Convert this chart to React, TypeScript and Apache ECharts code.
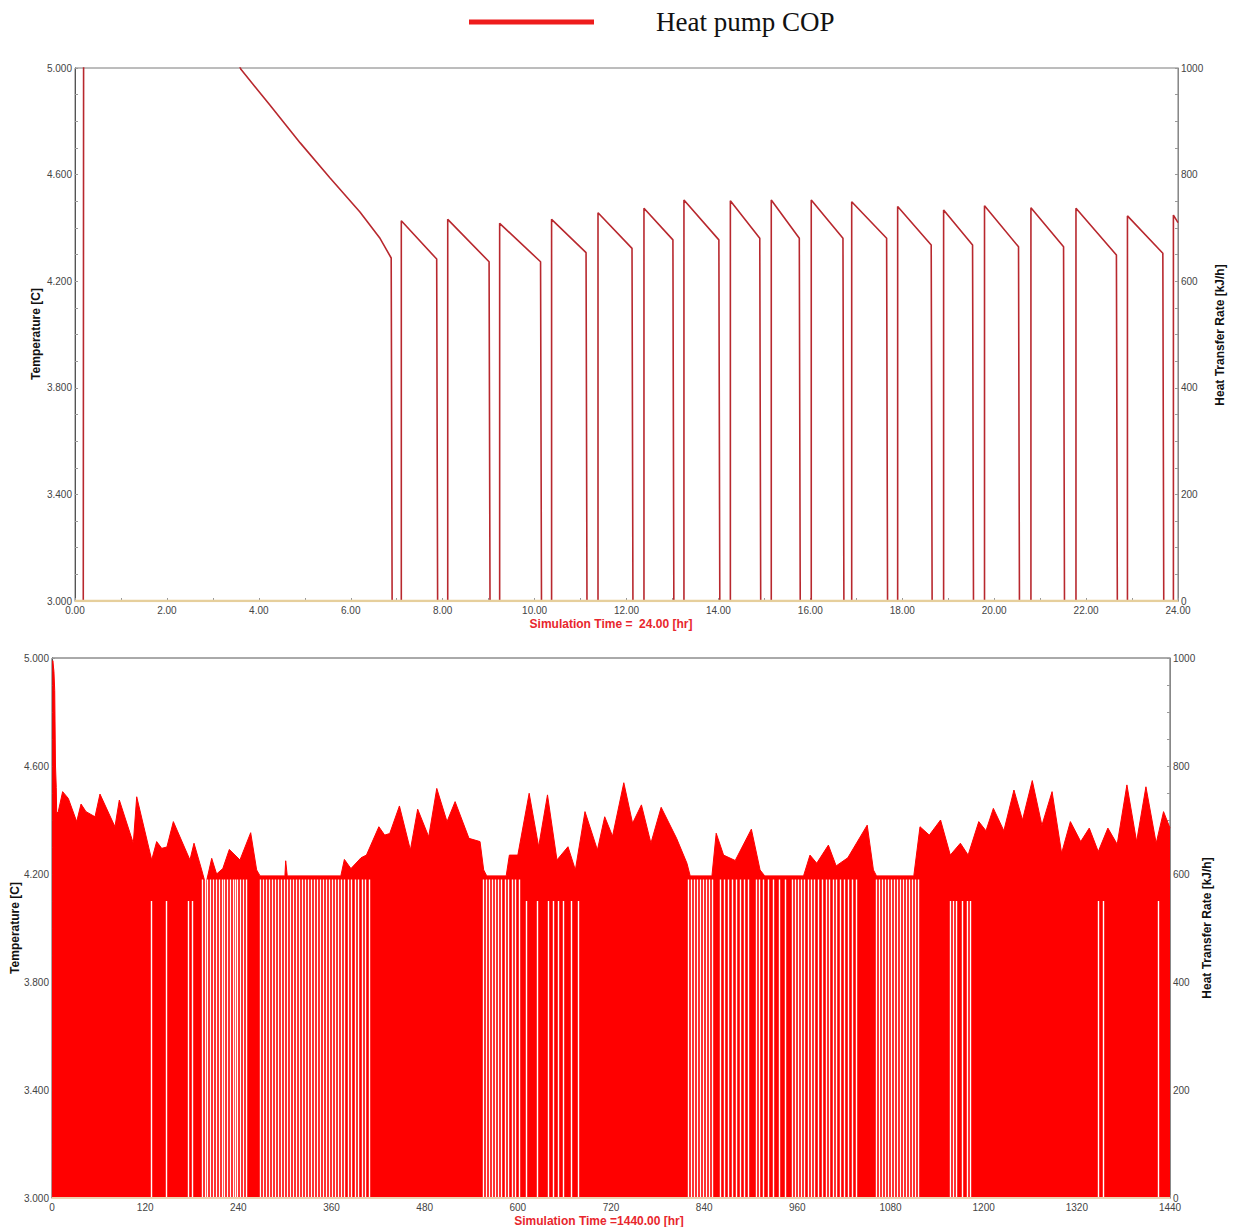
import React, { useEffect, useRef } from 'react';
import * as echarts from 'echarts';

// ---------- texts ----------
const legendLabel = 'Heat pump COP';
const topXTitle = 'Simulation Time =  24.00 [hr]';
const bottomXTitle = 'Simulation Time =1440.00 [hr]';
const leftTitle = 'Temperature [C]';
const rightTitle = 'Heat Transfer Rate [kJ/h]';

// ---------- top chart (24 h) ----------
// warm-up: COP above 5 (clipped), then decaying until first switch-off
const warmupT = [0.18, 0.19, 1.5, 3.0, 3.61, 4.24, 4.9, 5.55, 6.2, 6.64, 6.88, 6.9];
const warmupV = [3.0, 5.9, 5.6, 5.25, 4.995, 4.861, 4.719, 4.587, 4.46, 4.36, 4.287, 3.0];
// on/off cycles
const cycleOnT = [7.1, 8.11, 9.24, 10.37, 11.38, 12.38, 13.25, 14.26, 15.15, 16.02, 16.9, 17.9, 18.9, 19.79, 20.8, 21.78, 22.9, 23.9];
const cyclePeakV = [4.427, 4.432, 4.417, 4.432, 4.457, 4.474, 4.505, 4.502, 4.505, 4.505, 4.498, 4.48, 4.467, 4.483, 4.476, 4.474, 4.445, 4.448];
const cycleOffT = [7.87, 9.01, 10.13, 11.12, 12.12, 13.01, 14.01, 14.9, 15.76, 16.71, 17.66, 18.63, 19.53, 20.53, 21.51, 22.66, 23.67, 24.0];
const cycleEndV = [4.283, 4.273, 4.273, 4.307, 4.323, 4.355, 4.355, 4.361, 4.361, 4.361, 4.361, 4.336, 4.336, 4.329, 4.329, 4.298, 4.305, 4.42];
// heat transfer rate (flat zero)
const heatTopT = [0, 24];
const heatTopV = [0, 0];

// ---------- bottom chart (1440 h) ----------
const envT = [0.5, 1.0, 2.5, 3.5, 4.5, 5.5, 6.0, 8.0, 13.7, 21.0, 31.8, 37.4, 43.8, 55.4, 61.8, 81.1, 86.7, 104.7, 109.1, 128.4, 134.8, 141.3, 148, 156.3, 177.7, 182.9, 192.8, 198, 205.7, 212, 220, 228.4, 242.1, 255.9, 263.6, 268, 300, 301, 303, 372, 376.6, 385, 398, 405, 421, 428.5, 435, 447.5, 461.6, 471, 485.2, 495.6, 508.8, 519.2, 537.1, 551.3, 556, 560, 585, 589.1, 600, 614.6, 626.8, 638.2, 650.4, 664.6, 674.1, 686.5, 702.5, 711.9, 722, 736.5, 747.8, 759.2, 771.4, 784.6, 804.5, 817.8, 822, 850, 855.5, 865, 880, 900.8, 912, 918, 968, 976.3, 985, 1000, 1010, 1025, 1050, 1058, 1062, 1110, 1118, 1130, 1144.5, 1157, 1170, 1180, 1193.7, 1203, 1212.5, 1226, 1239, 1250, 1262.6, 1275, 1288.1, 1300.4, 1311.7, 1325, 1336, 1347.6, 1360, 1372, 1384.5, 1397, 1409, 1422.2, 1431.7, 1440];
const envV = [3.0, 4.99, 4.95, 4.88, 4.6, 4.52, 4.425, 4.43, 4.505, 4.48, 4.394, 4.459, 4.431, 4.412, 4.496, 4.375, 4.474, 4.314, 4.486, 4.252, 4.32, 4.295, 4.3, 4.394, 4.252, 4.314, 4.215, 4.16, 4.258, 4.2, 4.22, 4.291, 4.252, 4.353, 4.215, 4.193, 4.193, 4.249, 4.193, 4.193, 4.254, 4.22, 4.26, 4.27, 4.375, 4.344, 4.35, 4.452, 4.289, 4.44, 4.338, 4.517, 4.394, 4.468, 4.332, 4.32, 4.215, 4.193, 4.193, 4.27, 4.27, 4.499, 4.301, 4.493, 4.252, 4.301, 4.215, 4.431, 4.289, 4.412, 4.34, 4.538, 4.388, 4.456, 4.314, 4.447, 4.332, 4.24, 4.193, 4.193, 4.351, 4.27, 4.25, 4.366, 4.215, 4.193, 4.193, 4.27, 4.24, 4.307, 4.23, 4.26, 4.381, 4.215, 4.193, 4.193, 4.375, 4.344, 4.4, 4.27, 4.314, 4.27, 4.394, 4.36, 4.443, 4.36, 4.511, 4.4, 4.546, 4.38, 4.505, 4.277, 4.394, 4.32, 4.37, 4.283, 4.37, 4.31, 4.53, 4.32, 4.523, 4.314, 4.431, 4.37];
// compressor-off instants (white gaps) in the dense cycling bands
const gapCombT = [
  193.2, 197.1, 200.3, 204.1, 207.4, 211.9, 215.1, 219.0, 221.5, 225.4, 229.3, 233.1, 235.7, 238.9, 242.8, 246.0, 250.5,
  268.2, 271.6, 275.9, 279.3, 283.6, 287.0, 291.3, 294.8, 298.9, 302.5, 306.8, 310.2, 314.6, 318.0, 322.3, 325.6, 329.9, 333.4, 337.7, 341.1, 345.4, 348.8, 353.2, 356.6, 360.9, 364.3, 368.6, 372.0, 376.3,
  381.2, 385.1, 390.2, 394.1, 399.3, 403.1, 408.3,
  555.5, 559.5, 563.0, 567.2, 571.0, 575.1, 579.0, 583.5, 588.0, 592.2, 597.0, 601.5,
  819.2, 823.0, 826.9, 830.8, 834.6, 838.5, 842.3, 846.2, 850.1, 860.4, 865.5, 870.7, 875.8, 881.0, 886.1, 891.3, 896.4, 906.7, 911.5, 916.0,
  922.0, 929.5, 937.0, 944.5,
  953.1, 957.0, 960.8, 964.7, 968.6, 973.7, 977.6, 981.5, 986.6, 991.8, 996.9, 1000.8, 1006.0, 1009.8, 1015.0, 1020.1, 1025.3, 1030.4, 1035.6,
  1061.3, 1065.2, 1069.0, 1072.9, 1076.8, 1080.6, 1084.5, 1088.4, 1092.2, 1096.1, 1100.0, 1103.8, 1107.7, 1111.6, 1115.4
];
const gapSparseT = [127.5, 147.7, 175.6, 181.0, 611, 625, 639, 645.3, 651.7, 658.2, 668.5, 677.5, 1156.6, 1160.5, 1164.4, 1172.1, 1178.5, 1182.4, 1347, 1354, 1424.5];
const heatBottomT = [0, 1440];
const heatBottomV = [0, 0];

// ---------- axis tick values ----------
const tempMin = 3, tempMax = 5, tempLabelStep = 0.4, tempTickStep = 0.1;
const rateMin = 0, rateMax = 1000, rateLabelStep = 200, rateTickStep = 50;

const FONT = 'Liberation Sans';

function buildTop(): number[][] {
  const pts: number[][] = warmupT.map((t, i) => [t, warmupV[i]]);
  const n = cycleOnT.length;
  for (let i = 0; i < n; i++) {
    pts.push([cycleOnT[i], 3.0]);
    pts.push([cycleOnT[i], cyclePeakV[i]]);
    pts.push([cycleOffT[i], cycleEndV[i]]);
    if (i < n - 1) pts.push([cycleOffT[i] + 0.02, 3.0]);
  }
  return pts;
}

const tempFmt = (v: number) => {
  const k = (v - tempMin) / tempLabelStep;
  return Math.abs(k - Math.round(k)) < 1e-6 ? v.toFixed(3) : '';
};
const rateFmt = (v: number) => {
  const k = (v - rateMin) / rateLabelStep;
  return Math.abs(k - Math.round(k)) < 1e-6 ? String(Math.round(v)) : '';
};

function yTemp(gridIndex: number): any {
  return {
    gridIndex, type: 'value', position: 'left', min: tempMin, max: tempMax, interval: tempTickStep,
    axisLine: { show: true, lineStyle: { color: '#555', width: 1 } },
    axisTick: { show: true, inside: true, length: 3, lineStyle: { color: '#999' } },
    axisLabel: { formatter: tempFmt, fontSize: 10, color: '#444', fontFamily: FONT, margin: 3 },
    splitLine: { show: false },
  };
}
function yRate(gridIndex: number): any {
  return {
    gridIndex, type: 'value', position: 'right', min: rateMin, max: rateMax, interval: rateTickStep,
    axisLine: { show: true, lineStyle: { color: '#888', width: 1 } },
    axisTick: { show: true, inside: true, length: 3, lineStyle: { color: '#999' } },
    axisLabel: { formatter: rateFmt, fontSize: 10, color: '#444', fontFamily: FONT, margin: 3 },
    splitLine: { show: false },
  };
}

function vText(x: number, y: number, text: string): any {
  return {
    type: 'text', x, y, rotation: Math.PI / 2,
    style: { text, fontSize: 12, fontWeight: 'bold', fontFamily: FONT, fill: '#111', align: 'center', verticalAlign: 'middle' },
  };
}

export default function App() {
  const ref = useRef<HTMLDivElement>(null);
  useEffect(() => {
    if (!ref.current) return;
    const chart = echarts.init(ref.current, undefined, { renderer: 'svg' });
    const gapLines = [
      ...gapCombT.map((t) => [{ coord: [t, 3.004] }, { coord: [t, 4.18] }]),
      ...gapSparseT.map((t) => [{ coord: [t, 3.004] }, { coord: [t, 4.1] }]),
    ];
    chart.setOption({
      animation: false,
      backgroundColor: '#fff',
      grid: [
        { left: 75, top: 68, width: 1103, height: 533, show: true, borderColor: '#7a7a7a', borderWidth: 1 },
        { left: 52, top: 658, width: 1118, height: 540, show: true, borderColor: '#555', borderWidth: 1 },
      ],
      xAxis: [
        {
          gridIndex: 0, type: 'value', min: 0, max: 24, interval: 1,
          axisLine: { show: true, lineStyle: { color: '#999' } },
          axisTick: { show: true, inside: true, length: 3, lineStyle: { color: '#999' } },
          axisLabel: { formatter: (v: number) => (Math.abs(v % 2) < 1e-9 ? v.toFixed(2) : ''), fontSize: 10, color: '#444', fontFamily: FONT, margin: 4 },
          splitLine: { show: false },
        },
        {
          gridIndex: 1, type: 'value', min: 0, max: 1440, interval: 120,
          axisLine: { show: true, lineStyle: { color: '#999' } },
          axisTick: { show: true, inside: true, length: 3, lineStyle: { color: '#999' } },
          axisLabel: { formatter: (v: number) => String(Math.round(v)), fontSize: 10, color: '#444', fontFamily: FONT, margin: 4 },
          splitLine: { show: false },
        },
      ],
      yAxis: [yTemp(0), yRate(0), yTemp(1), yRate(1)],
      series: [
        {
          type: 'line', xAxisIndex: 0, yAxisIndex: 0, data: buildTop(), clip: true,
          showSymbol: false, lineStyle: { color: '#b8282e', width: 1.6 }, silent: true, z: 2,
        },
        {
          type: 'line', xAxisIndex: 0, yAxisIndex: 1, data: heatTopT.map((t, i) => [t, heatTopV[i]]),
          showSymbol: false, lineStyle: { color: '#e6cf9c', width: 2.5 }, silent: true, z: 4,
        },
        {
          type: 'line', xAxisIndex: 1, yAxisIndex: 2, data: envT.map((t, i) => [t, envV[i]]), clip: true,
          showSymbol: false, lineStyle: { color: '#ff0000', width: 1 },
          areaStyle: { color: '#ff0000', opacity: 1, origin: 'start' }, silent: true, z: 2,
          markLine: {
            silent: true, symbol: ['none', 'none'], label: { show: false },
            lineStyle: { color: '#ffffff', width: 1.4, type: 'solid', opacity: 1 },
            emphasis: { disabled: true },
            data: gapLines,
          },
        },
        {
          type: 'line', xAxisIndex: 1, yAxisIndex: 3, data: heatBottomT.map((t, i) => [t, heatBottomV[i]]),
          showSymbol: false, lineStyle: { color: '#edd2b0', width: 2 }, silent: true, z: 4,
        },
      ],
      graphic: [
        { type: 'line', shape: { x1: 469, y1: 22, x2: 594, y2: 22 }, style: { stroke: '#ee1c1c', lineWidth: 5 } },
        { type: 'text', x: 656, y: 22, style: { text: legendLabel, fontSize: 27, fontFamily: 'Liberation Serif', fill: '#111', verticalAlign: 'middle' } },
        { type: 'text', x: 611, y: 624, style: { text: topXTitle, fontSize: 12, fontWeight: 'bold', fontFamily: FONT, fill: '#e8262d', align: 'center', verticalAlign: 'middle' } },
        { type: 'text', x: 599, y: 1221, style: { text: bottomXTitle, fontSize: 12, fontWeight: 'bold', fontFamily: FONT, fill: '#e8262d', align: 'center', verticalAlign: 'middle' } },
        vText(36, 334, leftTitle),
        vText(1220, 335, rightTitle),
        vText(15, 928, leftTitle),
        vText(1207, 928, rightTitle),
      ],
    });
    return () => chart.dispose();
  }, []);
  return <div ref={ref} style={{ position: 'absolute', left: 0, top: 0, width: 1233, height: 1227 }} />;
}
